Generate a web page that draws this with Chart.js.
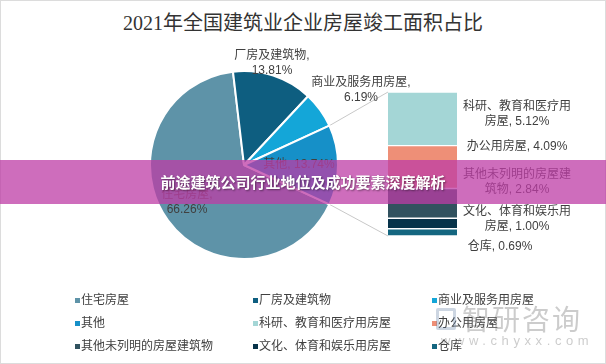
<!DOCTYPE html>
<html><head><meta charset="utf-8">
<script src="https://cdn.jsdelivr.net/npm/chart.js@4.4.0/dist/chart.umd.min.js"></script>
<style>
html,body{margin:0;padding:0;background:#fff;}
#wrap{position:relative;width:606px;height:364px;overflow:hidden;font-family:"Liberation Sans","Noto Sans CJK SC",sans-serif;color:#404040;}
#frame{position:absolute;left:0;top:0;width:604px;height:362px;border:1px solid #dcdcdc;}
#title{position:absolute;left:0;top:10px;width:606px;text-align:center;font-family:"Liberation Serif","Noto Sans CJK SC",serif;font-size:20px;line-height:26px;color:#333333;}
canvas{position:absolute;}
.lbl{position:absolute;font-size:12px;line-height:15px;text-align:center;color:#404040;}
.leg{position:absolute;font-size:12px;line-height:16px;color:#404040;white-space:nowrap;}
.mk{position:absolute;width:5px;height:5px;}
#band{position:absolute;left:0;top:160px;width:606px;height:44px;background:rgba(190,60,165,0.75);color:#fff;text-align:center;font-family:"Noto Sans CJK SC",sans-serif;font-weight:700;font-size:15px;line-height:44px;text-shadow:1px 1px 2px rgba(0,0,0,0.45);}
#wm1{position:absolute;left:462px;top:301px;font-family:"Noto Sans CJK SC",sans-serif;font-size:28px;line-height:34px;letter-spacing:2px;color:rgba(110,110,110,0.35);white-space:nowrap;}
#wm2{position:absolute;left:441px;top:333px;font-family:"Liberation Sans",sans-serif;font-size:13px;line-height:16px;letter-spacing:4.6px;color:rgba(110,110,110,0.35);white-space:nowrap;}
#wmlogo{position:absolute;left:436px;top:308px;width:20px;height:22px;border:3px solid rgba(90,120,160,0.3);box-sizing:border-box;border-radius:2px;}
</style></head>
<body>
<div id="wrap">
  <div id="frame"></div>
  <div id="title">2021年全国建筑业企业房屋竣工面积占比</div>
  <canvas id="lines" width="606" height="364" style="left:0;top:0;"></canvas>
  <canvas id="pie" width="190" height="190" style="left:149px;top:70px;"></canvas>
  <canvas id="bar" width="69" height="144" style="left:388px;top:92px;"></canvas>
  <div id="labels"></div>
  <div id="legend"></div>
  <div id="band">前途建筑公司行业地位及成功要素深度解析</div>
  <div id="wmlogo"></div>
  <div id="wm1">智研咨询</div>
  <div id="wm2">www.chyxx.com</div>
</div>
<script>
// ---- data ----
const pieCategories = ['住宅房屋', '厂房及建筑物', '商业及服务用房屋', '其他'];
const pieValues = [66.26, 13.81, 6.19, 13.74];
const barCategories = ['科研、教育和医疗用房屋', '办公用房屋', '其他未列明的房屋建筑物', '文化、体育和娱乐用房屋', '仓库'];
const barValues = [5.12, 4.09, 2.84, 1.00, 0.69];

// ---- styles ----
const pieColors = ['#5e93a8', '#0e5e80', '#14a6d8', '#1690c8'];
const barColors = ['#a4d6d6', '#ee8f77', '#31525f', '#07334a', '#146680'];
// label layout: [centerX, top, width]
const pieLabelPos = [[187, 187, 58], [272, 48, 84], [361, 75, 104], [299, 157, 90]];
const barLabelPos = [[517, 99, 112], [517, 139, 112], [517, 167, 112], [517, 204, 112], [500, 239, 90]];
const legendCols = [75, 253, 432];
const legendRows = [300, 323, 346];

const fmt = v => v.toFixed(2) + '%';

// ---- pie ----
const otherShare = pieValues[3] / pieValues.reduce((a, b) => a + b, 0);
const pieChart = new Chart(document.getElementById('pie'), {
  type: 'pie',
  data: { labels: pieCategories, datasets: [{ data: pieValues, backgroundColor: pieColors, borderColor: '#ffffff', borderWidth: 2, hoverOffset: 0 }] },
  options: {
    responsive: false, animation: false,
    rotation: 90 + otherShare * 180,
    layout: { padding: 0 },
    plugins: { legend: { display: false }, tooltip: { enabled: false } }
  }
});

// ---- stacked bar (bottom to top) ----
const order = [4, 3, 2, 1, 0];
const barTotal = barValues.reduce((a, b) => a + b, 0);
const barChart = new Chart(document.getElementById('bar'), {
  type: 'bar',
  data: {
    labels: [''],
    datasets: order.map(i => ({
      label: barCategories[i], data: [barValues[i]], backgroundColor: barColors[i],
      borderColor: '#ffffff', borderWidth: { top: 1, bottom: 1, left: 0, right: 0 }, borderSkipped: false,
      barPercentage: 1, categoryPercentage: 1
    }))
  },
  options: {
    responsive: false, animation: false,
    layout: { padding: 0 },
    scales: {
      x: { display: false, stacked: true },
      y: { display: false, stacked: true, min: 0, max: barTotal }
    },
    plugins: { legend: { display: false }, tooltip: { enabled: false } }
  }
});

// ---- connector lines ----
(function () {
  const ctx = document.getElementById('lines').getContext('2d');
  const arc = pieChart.getDatasetMeta(0).data[3];
  const px = 149, py = 70, bx = 388, by = 92;
  const r = arc.outerRadius;
  const p1 = [px + arc.x + r * Math.cos(arc.startAngle), py + arc.y + r * Math.sin(arc.startAngle)];
  const p2 = [px + arc.x + r * Math.cos(arc.endAngle), py + arc.y + r * Math.sin(arc.endAngle)];
  const topBar = barChart.getDatasetMeta(order.length - 1).data[0];
  const botBar = barChart.getDatasetMeta(0).data[0];
  const q1 = [bx + topBar.x - topBar.width / 2, by + topBar.y];
  const q2 = [bx + botBar.x - botBar.width / 2, by + botBar.base];
  ctx.strokeStyle = '#c8c8c8';
  ctx.lineWidth = 1;
  ctx.beginPath();
  ctx.moveTo(p1[0], p1[1]); ctx.lineTo(q1[0], q1[1]);
  ctx.moveTo(p2[0], p2[1]); ctx.lineTo(q2[0], q2[1]);
  ctx.stroke();
})();

// ---- data labels ----
const labelsDiv = document.getElementById('labels');
function addLabel(text, pos) {
  const d = document.createElement('div');
  d.className = 'lbl';
  d.textContent = text;
  d.style.left = (pos[0] - pos[2] / 2) + 'px';
  d.style.top = pos[1] + 'px';
  d.style.width = pos[2] + 'px';
  labelsDiv.appendChild(d);
}
pieCategories.forEach((c, i) => addLabel(c + ', ' + fmt(pieValues[i]), pieLabelPos[i]));
barCategories.forEach((c, i) => addLabel(c + ', ' + fmt(barValues[i]), barLabelPos[i]));

// ---- legend ----
const legendDiv = document.getElementById('legend');
const allCats = pieCategories.concat(barCategories);
const allColors = pieColors.concat(barColors);
allCats.forEach((c, i) => {
  const x = legendCols[i % 3], y = legendRows[Math.floor(i / 3)];
  const m = document.createElement('div');
  m.className = 'mk';
  m.style.left = x + 'px'; m.style.top = (y - 2) + 'px'; m.style.background = allColors[i];
  const t = document.createElement('div');
  t.className = 'leg';
  t.textContent = c;
  t.style.left = (x + 6) + 'px'; t.style.top = (y - 8) + 'px';
  legendDiv.appendChild(m); legendDiv.appendChild(t);
});
</script>
</body></html>
